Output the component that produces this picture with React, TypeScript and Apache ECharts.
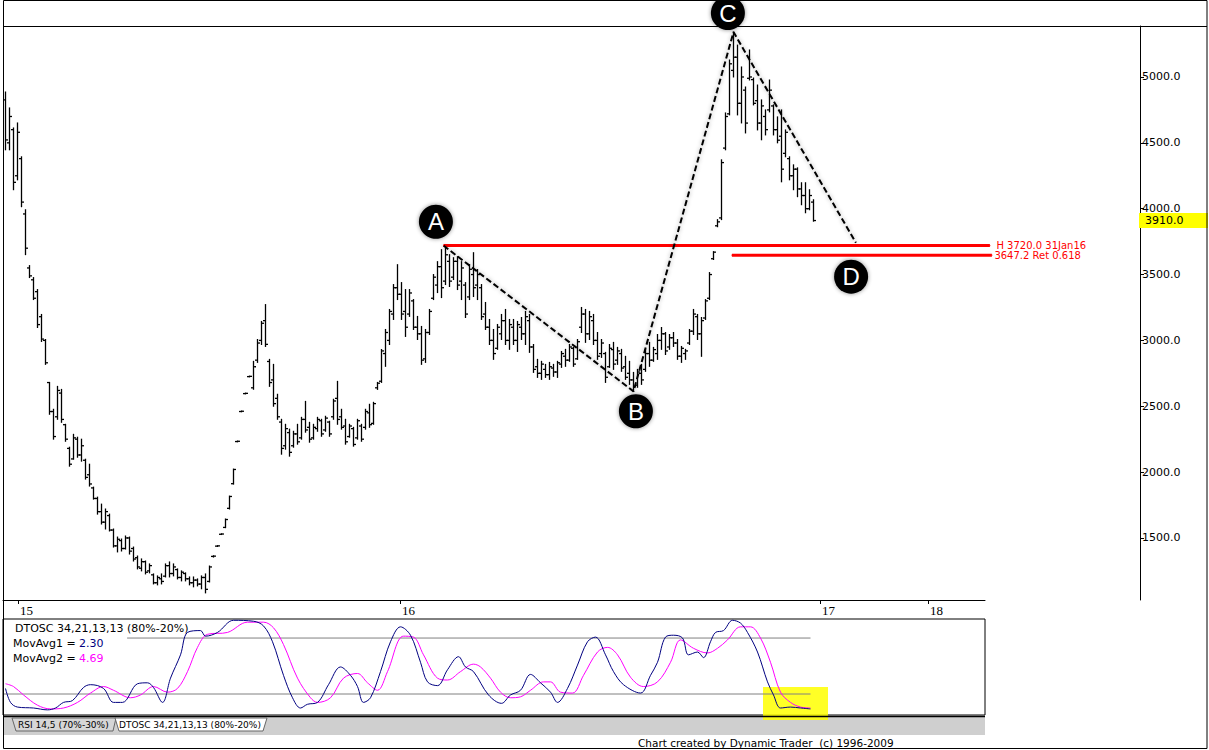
import React, { useEffect, useRef } from "react";
import * as echarts from "echarts";

// ---------- price bars (one bar per index) ----------
const barOpen = [
  4826, 4500, 4600, 4250, 4380, 3960, 3550, 3460, 3370, 3180,
  3000, 2680, 2460, 2420, 2600, 2360, 2180, 2100, 2250, 2130,
  2090, 1980, 1880, 1800, 1700, 1620, 1670, 1560, 1440, 1480,
  1420, 1500, 1420, 1350, 1270, 1320, 1250, 1220, 1160, 1190,
  1210, 1290, 1230, 1260, 1200, 1230, 1190, 1160, 1180, 1150,
  1200, 1170, 1360, 1438, 1528, 1580, 1725, 1912, 2232, 2460,
  2596, 2725, 2640, 2850, 3000, 3150, 2840, 2700, 2560, 2380,
  2200, 2300, 2200, 2290, 2260, 2400, 2340, 2260, 2330, 2390,
  2320, 2380, 2420, 2560, 2420, 2350, 2270, 2330, 2260, 2350,
  2340, 2450, 2370, 2640, 2690, 2900, 3000, 3200, 3400, 3350,
  3220, 3200, 3300, 3100, 3050, 2860, 3060, 3320, 3420, 3560,
  3450, 3600, 3480, 3600, 3450, 3420, 3330, 3500, 3420, 3400,
  3200, 3100, 3000, 2940, 3050, 3150, 3000, 3100, 3000, 3100,
  3050, 3150, 2950, 2800, 2750, 2780, 2740, 2790, 2760, 2820,
  2880, 2850, 2940, 2860, 3100, 3200, 3050, 3150, 3000, 2900,
  2900, 2800, 2930, 2850, 2900, 2800, 2750, 2700, 2660, 2750,
  2780, 2900, 2850, 2900, 3000, 3050, 2950, 3020, 2980, 2880,
  2900, 2980, 3070, 3180, 3050, 3170, 3320, 3620, 3870, 3930,
  4460, 4720, 5050, 5150, 4800, 4900, 4990, 4980, 4820, 4650,
  4700, 4750, 4780, 4600, 4550, 4420, 4380, 4250, 4300, 4150,
  4100, 4000, 4050,
];
const barHigh = [
  4886, 4765, 4613, 4651, 4394, 3992, 3568, 3477, 3386, 3197,
  3007, 2681, 2477, 2651, 2628, 2363, 2189, 2287, 2265, 2250,
  2098, 2060, 1886, 1810, 1757, 1720, 1681, 1568, 1507, 1492,
  1515, 1507, 1431, 1363, 1341, 1325, 1303, 1227, 1212, 1227,
  1303, 1318, 1303, 1265, 1250, 1235, 1204, 1204, 1189, 1212,
  1227, 1287, 1365, 1442, 1532, 1644, 1818, 2023, 2236, 2464,
  2600, 2729, 2841, 3007, 3144, 3272, 2856, 2818, 2591, 2401,
  2363, 2326, 2310, 2363, 2416, 2537, 2378, 2363, 2416, 2401,
  2424, 2386, 2553, 2689, 2477, 2401, 2363, 2340, 2401, 2363,
  2477, 2515, 2530, 2681, 2931, 3083, 3235, 3424, 3575, 3439,
  3386, 3386, 3310, 3182, 3106, 3083, 3235, 3500, 3598, 3689,
  3720, 3651, 3628, 3636, 3598, 3439, 3575, 3666, 3538, 3424,
  3288, 3159, 3083, 3121, 3197, 3235, 3159, 3159, 3144, 3174,
  3220, 3197, 2969, 2856, 2841, 2818, 2833, 2818, 2841, 2916,
  2932, 2969, 2947, 3007, 3250, 3235, 3220, 3197, 3060, 3007,
  2909, 2969, 2985, 2947, 2932, 2879, 2841, 2757, 2780, 2818,
  2932, 2985, 2947, 3045, 3098, 3060, 3045, 3060, 3007, 2954,
  2932, 3083, 3235, 3197, 3174, 3310, 3515, 3674, 3917, 4371,
  4727, 5129, 5341, 5242, 5076, 4924, 5205, 4992, 4939, 4826,
  4750, 4977, 4788, 4697, 4750, 4598, 4394, 4333, 4310, 4197,
  4197, 4144, 4068,
];
const barLow = [
  4447, 4447, 4144, 4219, 4015, 3651, 3477, 3310, 3098, 2992,
  2818, 2439, 2250, 2401, 2378, 2234, 2045, 2098, 2113, 2083,
  1947, 1894, 1795, 1681, 1606, 1568, 1553, 1431, 1394, 1401,
  1416, 1378, 1325, 1265, 1250, 1227, 1235, 1151, 1144, 1151,
  1204, 1204, 1212, 1189, 1174, 1174, 1144, 1129, 1136, 1114,
  1083, 1166, 1355, 1435, 1526, 1578, 1720, 1909, 2230, 2458,
  2594, 2723, 2629, 2833, 2969, 2954, 2651, 2500, 2401, 2136,
  2174, 2121, 2189, 2212, 2250, 2303, 2227, 2250, 2310, 2272,
  2310, 2272, 2401, 2363, 2326, 2212, 2265, 2197, 2250, 2234,
  2326, 2340, 2363, 2628, 2681, 2803, 2969, 3159, 3310, 3159,
  3030, 3182, 3083, 3007, 2818, 2833, 3045, 3310, 3363, 3325,
  3424, 3409, 3462, 3386, 3310, 3174, 3310, 3333, 3310, 3159,
  3083, 2969, 2856, 2932, 3007, 2969, 2932, 2969, 2916, 3007,
  2969, 2909, 2757, 2719, 2704, 2719, 2704, 2727, 2719, 2795,
  2803, 2841, 2803, 2856, 3060, 2985, 3007, 2969, 2856, 2871,
  2681, 2795, 2780, 2818, 2765, 2704, 2666, 2613, 2644, 2666,
  2765, 2803, 2841, 2856, 2932, 2893, 2932, 2954, 2856, 2833,
  2856, 2969, 3045, 3007, 2879, 3159, 3310, 3614, 3863, 3917,
  4447, 4712, 5000, 4712, 4651, 4575, 4977, 4788, 4598, 4523,
  4560, 4735, 4560, 4500, 4204, 4394, 4219, 4144, 4091, 4030,
  3969, 3992, 3905,
];
const barClose = [
  4522, 4700, 4200, 4580, 4050, 3700, 3490, 3320, 3120, 3010,
  2830, 2460, 2270, 2620, 2400, 2250, 2060, 2260, 2130, 2200,
  1960, 1910, 1800, 1700, 1620, 1700, 1560, 1440, 1490, 1420,
  1500, 1400, 1340, 1280, 1320, 1240, 1290, 1160, 1200, 1170,
  1290, 1230, 1280, 1200, 1240, 1190, 1160, 1180, 1150, 1200,
  1110, 1280, 1362, 1440, 1530, 1640, 1815, 2020, 2234, 2462,
  2598, 2727, 2800, 2980, 3130, 2970, 2680, 2520, 2420, 2180,
  2330, 2150, 2290, 2230, 2400, 2320, 2250, 2340, 2400, 2290,
  2410, 2290, 2540, 2400, 2340, 2230, 2350, 2210, 2390, 2250,
  2460, 2360, 2520, 2675, 2920, 3060, 3220, 3400, 3350, 3200,
  3100, 3360, 3100, 3050, 2850, 3060, 3220, 3480, 3560, 3400,
  3650, 3450, 3600, 3420, 3550, 3200, 3540, 3400, 3500, 3180,
  3100, 3000, 2900, 3100, 3150, 3000, 3120, 3000, 3120, 3050,
  3180, 2950, 2780, 2750, 2820, 2740, 2800, 2760, 2830, 2900,
  2850, 2950, 2820, 2990, 3200, 3050, 3180, 3000, 2880, 2980,
  2720, 2940, 2820, 2920, 2790, 2720, 2700, 2650, 2760, 2700,
  2900, 2850, 2930, 3000, 3050, 2920, 3020, 2980, 2880, 2940,
  2920, 3070, 3200, 3050, 3150, 3300, 3500, 3670, 3900, 4350,
  4700, 5100, 5150, 4800, 5000, 4650, 5000, 4800, 4650, 4780,
  4600, 4900, 4600, 4520, 4300, 4580, 4250, 4300, 4150, 4100,
  4000, 4100, 3910,
];

// ---------- axes ----------
const priceTicks = [1500, 2000, 2500, 3000, 3500, 4000, 4500, 5000];
const yearTicks = [3.125, 98.625, 203.625, 230.625];
const yearLabels = ["15", "16", "17", "18"];

// ---------- ABCD pattern ----------
const patternPoints = [
  [109.5, 3720],
  [157, 2613],
  [182, 5341],
  [212.6, 3742],
];
const patternNames = ["A", "B", "C", "D"];
const patternLabelPoints = [
  [107.6, 3901],
  [157.6, 2462],
  [180.6, 5485],
  [211.4, 3484],
];

// ---------- price levels ----------
const highLevel = 3720.0;
const highLevelDate = "31Jan16";
const retLevel = 3647.2;
const retRatio = 0.618;
const highLineRange = [109.5, 246.1];
const retLineRange = [181.6, 246.6];

// ---------- DTOSC oscillator ----------
const oscBandHigh = 80;
const oscBandLow = 20;
const bandHighRange = [30.4, 201.25];
const bandLowRange = [-0.625, 201.25];
const movAvg1 = 2.3;
const movAvg2 = 4.69;
const dtoscFast = [
  [0, 26], [1.25, 11], [3, 6], [7, 5], [10.5, 3], [12.5, 5], [14.5, 11], [16.75, 13], [19.5, 27], [21.25, 30],
  [24.5, 26], [27, 11], [29.25, 11], [33, 31], [35.5, 32], [37, 27], [39.25, 11], [41.25, 37], [43.75, 62], [45.5, 86],
  [48.75, 88], [50, 82], [53, 86], [57, 99], [62, 98], [64.5, 93], [66.75, 76], [69.5, 40], [71.75, 16], [73.75, 5],
  [75.5, 9], [78, 11], [80.75, 30], [83.75, 49], [86.25, 40], [88, 28], [89.5, 11], [91.25, 16], [93.75, 44], [96.25, 76],
  [98.75, 92], [101.25, 83], [103.75, 54], [105.5, 33], [108, 29], [110.5, 46], [113.25, 60], [115, 49], [117, 44], [120.75, 19],
  [124, 10], [126.25, 19], [128.75, 24], [131.25, 41], [133.75, 32], [136.25, 22], [138, 11], [140.5, 26], [143, 51], [145.5, 76],
  [147.5, 81], [150, 62], [152, 44], [154.5, 30], [158.75, 21], [161.25, 40], [163, 54], [165, 81], [167, 83], [169.25, 80],
  [170.75, 62], [173, 65], [174.5, 59], [176.25, 76], [177.5, 86], [179.5, 88], [181.75, 99], [183.75, 96], [185.5, 86], [188, 65],
  [190.5, 33], [192, 19], [193.75, 5], [196.25, 6], [198.75, 5], [201.25, 4],
];
const dtoscSlow = [
  [0, 31], [2, 28], [4.5, 19], [8, 8], [11.25, 4], [14.5, 5], [18, 11], [21.25, 21], [24.5, 28], [27, 24],
  [31.25, 16], [33.75, 19], [37, 28], [40.5, 22], [43, 26], [45.5, 44], [48, 70], [50.5, 84], [55.5, 86], [60.5, 97],
  [64.5, 97], [67, 91], [69.5, 73], [73, 37], [76.25, 16], [78, 11], [81.25, 16], [84.5, 37], [88, 42], [90.5, 32],
  [93, 24], [95.5, 44], [99.5, 82], [102, 81], [104.5, 62], [108, 37], [110.5, 35], [113.75, 44], [117, 52], [118.75, 49],
  [121.25, 37], [123.75, 22], [126.25, 16], [128.75, 17], [131.25, 24], [134.5, 33], [136.25, 33], [138.75, 22], [141.75, 21], [144.5, 40],
  [148, 65], [150.5, 70], [153, 62], [156.25, 38], [159.5, 28], [163, 33], [166.25, 54], [168.75, 78], [172, 69], [175.5, 64],
  [178, 69], [180.5, 78], [183.75, 92], [186.25, 92], [188.75, 80], [191.25, 54], [193.75, 22], [196.25, 11], [198.75, 6], [201.25, 5],
];

const SANS = '"DejaVu Sans", Verdana, sans-serif';
const SERIF = '"Liberation Serif", "Times New Roman", serif';
const ARIAL = '"Liberation Sans", Arial, sans-serif';

export default function App() {
  const ref = useRef<HTMLDivElement>(null);

  useEffect(() => {
    if (!ref.current) return;
    const chart = echarts.init(ref.current, null, { renderer: "svg" });

    const ohlc = barOpen.map((o, i) => [i, o, barHigh[i], barLow[i], barClose[i]]);

    const option: any = {
      animation: false,
      backgroundColor: "#ffffff",
      grid: [
        { left: 3, top: 26, width: 1137, height: 574, show: false, containLabel: false, outerBoundsMode: "none" },
        { left: 3, top: 600, width: 982, height: 19, show: false, containLabel: false, outerBoundsMode: "none" },
        {
          left: 3, top: 619, width: 982, height: 96, show: true, borderColor: "#000", borderWidth: 1,
          backgroundColor: "transparent", containLabel: false, outerBoundsMode: "none",
        },
      ],
      xAxis: [
        { type: "value", gridIndex: 0, min: -0.625, max: 283.625, show: false },
        {
          type: "value", gridIndex: 1, min: -0.625, max: 244.875, position: "top",
          axisLine: { show: true, onZero: false, lineStyle: { color: "#000", width: 1 } },
          axisTick: { show: true, inside: true, length: 4, customValues: yearTicks, lineStyle: { color: "#000" } },
          axisLabel: {
            show: true, inside: true, customValues: yearTicks, margin: 4, align: "left", padding: [0, 0, 0, 2],
            color: "#000", fontSize: 13, fontFamily: SERIF,
            formatter: (v: number) => {
              let best = 0;
              yearTicks.forEach((t, k) => { if (Math.abs(t - v) < Math.abs(yearTicks[best] - v)) best = k; });
              return yearLabels[best];
            },
          },
          splitLine: { show: false },
        },
        { type: "value", gridIndex: 2, min: -0.625, max: 244.875, show: false },
      ],
      yAxis: [
        {
          type: "value", gridIndex: 0, position: "right", min: 1029, max: 5387,
          axisLine: { show: true, onZero: false, lineStyle: { color: "#000", width: 1 } },
          axisTick: { show: true, length: 4, customValues: priceTicks, lineStyle: { color: "#000" } },
          axisLabel: {
            show: true, customValues: priceTicks, margin: 2, color: "#000", fontSize: 11, fontFamily: SANS,
            formatter: (v: number) => Number(v).toFixed(1),
          },
          splitLine: { show: false },
        },
        { type: "value", gridIndex: 1, min: 0, max: 1, show: false },
        { type: "value", gridIndex: 2, min: -2.5, max: 100.4, show: false },
      ],
      series: [
        {
          type: "custom", name: "price", xAxisIndex: 0, yAxisIndex: 0,
          data: ohlc, encode: { x: 0, y: [1, 2, 3, 4] },
          renderItem: (params: any, api: any) => {
            const i = api.value(0);
            const o = api.coord([i, api.value(1)]);
            const h = api.coord([i, api.value(2)]);
            const l = api.coord([i, api.value(3)]);
            const c = api.coord([i, api.value(4)]);
            const style = { stroke: "#000", lineWidth: 1.3 };
            return {
              type: "group",
              children: [
                { type: "line", shape: { x1: h[0], y1: h[1] - 0.5, x2: l[0], y2: l[1] + 0.5 }, style },
                { type: "line", shape: { x1: o[0] - 2.5, y1: o[1], x2: o[0], y2: o[1] }, style },
                { type: "line", shape: { x1: c[0], y1: c[1], x2: c[0] + 2.5, y2: c[1] }, style },
              ],
            };
          },
        },
        {
          type: "line", name: "high", xAxisIndex: 0, yAxisIndex: 0, symbol: "circle", symbolSize: 1, showSymbol: true,
          itemStyle: { color: "#ff0000" }, lineStyle: { color: "#ff0000", width: 3 },
          data: [
            [highLineRange[0], highLevel],
            {
              value: [highLineRange[1], highLevel],
              label: {
                show: true, position: "right", distance: 6, color: "#ff0000", fontSize: 10, fontFamily: SANS,
                formatter: `H ${highLevel.toFixed(1)} ${highLevelDate}`,
              },
            },
          ],
        },
        {
          type: "line", name: "ret", xAxisIndex: 0, yAxisIndex: 0, symbol: "circle", symbolSize: 1, showSymbol: true,
          itemStyle: { color: "#ff0000" }, lineStyle: { color: "#ff0000", width: 3 },
          data: [
            [retLineRange[0], retLevel],
            {
              value: [retLineRange[1], retLevel],
              label: {
                show: true, position: "right", distance: 2, color: "#ff0000", fontSize: 10, fontFamily: SANS,
                formatter: `${retLevel.toFixed(1)} Ret ${retRatio}`,
              },
            },
          ],
        },
        {
          type: "line", name: "pattern", xAxisIndex: 0, yAxisIndex: 0, symbol: "none",
          data: patternPoints,
          lineStyle: {
            color: "#000", width: 2, type: [6, 3],
            shadowBlur: 4, shadowColor: "rgba(0,0,0,0.35)",
          },
        },
        {
          type: "scatter", name: "labels", xAxisIndex: 0, yAxisIndex: 0, clip: false,
          symbol: "circle", symbolSize: 34,
          itemStyle: { color: "#000", opacity: 1, shadowBlur: 4, shadowColor: "rgba(0,0,0,0.45)" },
          label: {
            show: true, position: "inside", color: "#fff", fontSize: 24, fontFamily: ARIAL,
            formatter: (p: any) => patternNames[p.dataIndex],
          },
          data: patternLabelPoints,
        },
        {
          type: "line", name: "band80", xAxisIndex: 2, yAxisIndex: 2, symbol: "none", silent: true,
          lineStyle: { color: "#808080", width: 1 },
          data: [[bandHighRange[0], oscBandHigh], [bandHighRange[1], oscBandHigh]],
        },
        {
          type: "line", name: "band20", xAxisIndex: 2, yAxisIndex: 2, symbol: "none", silent: true,
          lineStyle: { color: "#808080", width: 1 },
          data: [[bandLowRange[0], oscBandLow], [bandLowRange[1], oscBandLow]],
        },
        {
          type: "line", name: "MovAvg2", xAxisIndex: 2, yAxisIndex: 2, symbol: "none", smooth: 0.35,
          lineStyle: { color: "#ff00ff", width: 1 },
          data: dtoscSlow,
        },
        {
          type: "line", name: "MovAvg1", xAxisIndex: 2, yAxisIndex: 2, symbol: "none", smooth: 0.35,
          lineStyle: { color: "#000080", width: 1 },
          data: dtoscFast,
        },
      ],
    };

    chart.setOption(option);

    const lastClose = barClose[barClose.length - 1];
    const yLast = chart.convertToPixel({ yAxisIndex: 0 }, lastClose) as number;

    const txt = (text: string, x: number, y: number, size: number, color = "#000", family = SANS, z = 5) => ({
      type: "text", x, y, z,
      style: { text, fill: color, fontSize: size, fontFamily: family, align: "left", verticalAlign: "middle" },
    });

    chart.setOption({
      graphic: {
        elements: [
          { type: "rect", z: 1, shape: { x: 763, y: 687, width: 65, height: 33 }, style: { fill: "rgba(255,255,0,0.85)" } },
          { type: "rect", z: 0, shape: { x: 3, y: 717, width: 982, height: 18 }, style: { fill: "#cfcfcf" } },
          { type: "line", z: 3, shape: { x1: 3, y1: 716.5, x2: 985, y2: 716.5 }, style: { stroke: "#000", lineWidth: 1.5 } },
          {
            type: "polygon", z: 3,
            shape: { points: [[12, 718], [116, 718], [113, 731], [16, 731]] },
            style: { fill: "#d6d6d6", stroke: "#666", lineWidth: 1 },
          },
          txt("RSI 14,5 (70%-30%)", 18, 725, 9, "#000", SANS, 4),
          {
            type: "polygon", z: 4,
            shape: { points: [[115, 718], [267, 718], [263, 731], [119, 731]] },
            style: { fill: "#ffffff", stroke: "#666", lineWidth: 1 },
          },
          txt("DTOSC 34,21,13,13 (80%-20%)", 119, 725, 9, "#000", SANS, 5),
          txt("DTOSC 34,21,13,13 (80%-20%)", 15, 628, 11),
          txt("MovAvg1 =", 13, 643, 11),
          txt(movAvg1.toFixed(2), 79, 643, 11, "#000080"),
          txt("MovAvg2 =", 13, 658, 11),
          txt(movAvg2.toFixed(2), 79, 658, 11, "#ff00ff"),
          txt("Chart created by Dynamic Trader  (c) 1996-2009", 638, 743, 10.5),
          { type: "line", z: 3, shape: { x1: 3, y1: 26.5, x2: 1207, y2: 26.5 }, style: { stroke: "#000", lineWidth: 1 } },
          { type: "rect", z: 10, shape: { x: 1139, y: yLast - 7.5, width: 69, height: 15 }, style: { fill: "#ffff00" } },
          txt(lastClose.toFixed(1), 1145, yLast, 11, "#000", SANS, 11),
          {
            type: "rect", z: 12, shape: { x: 3.5, y: 0.5, width: 1203.5, height: 748 },
            style: { fill: "none", stroke: "#000", lineWidth: 1 },
          },
        ],
      },
    });

    return () => chart.dispose();
  }, []);

  return (
    <div
      ref={ref}
      style={{ position: "fixed", left: 0, top: 0, width: 1209, height: 750, background: "#fff" }}
    />
  );
}
